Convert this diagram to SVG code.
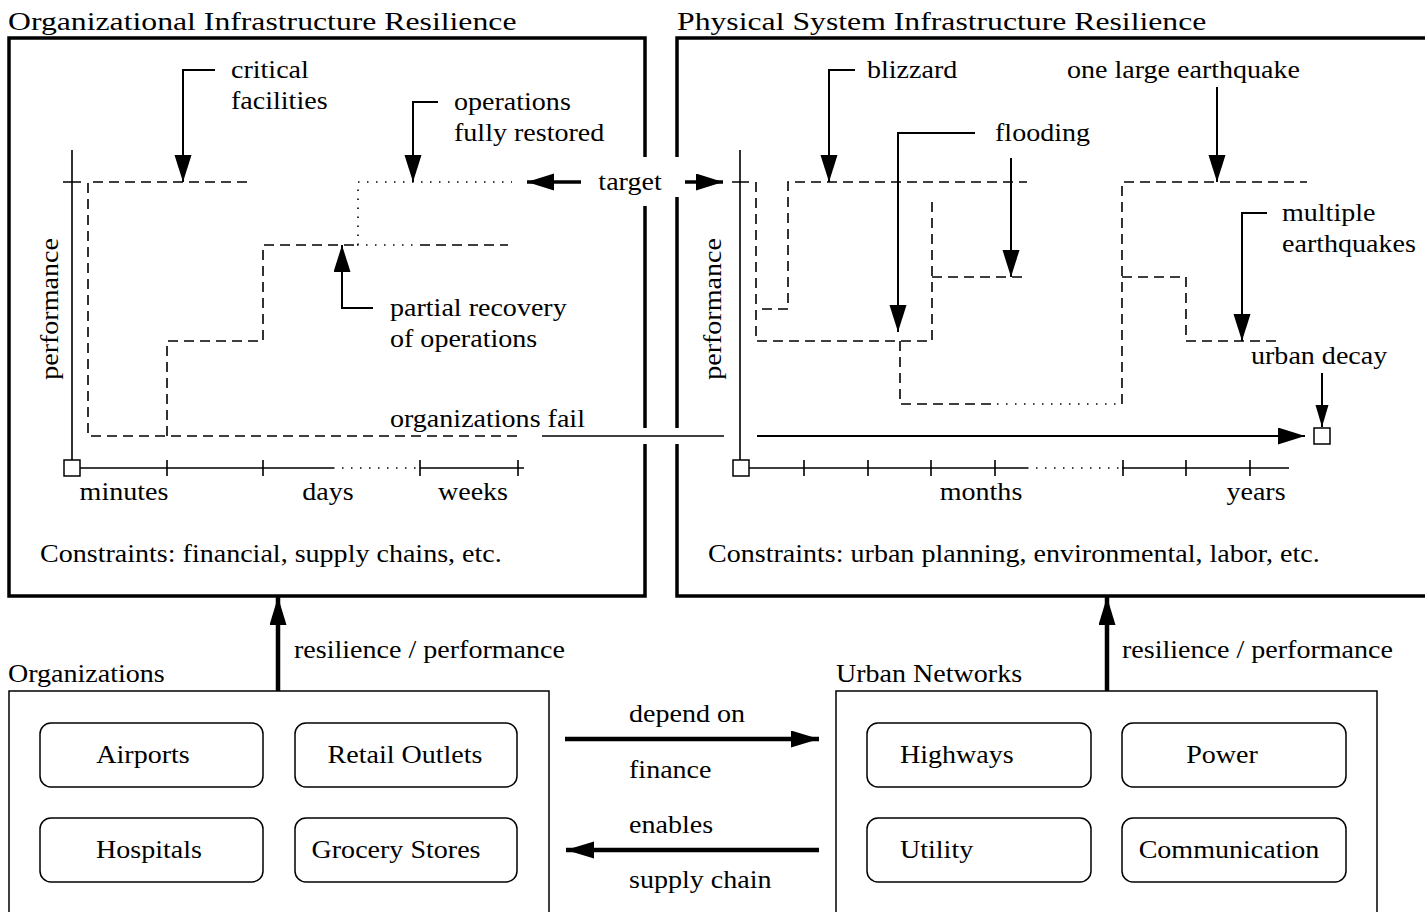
<svg xmlns="http://www.w3.org/2000/svg" width="1425" height="912" viewBox="0 0 1425 912">
<style>
text{font-family:"Liberation Serif","Times New Roman",serif;font-size:25.5px;fill:#000}
.ttl{font-size:25.7px}
.mid{text-anchor:middle}
.frame{fill:none;stroke:#000;stroke-width:3.5}
.ln{fill:none;stroke:#000;stroke-width:1.6}
.dash{fill:none;stroke:#000;stroke-width:1.6;stroke-dasharray:10 6}
.dot{fill:none;stroke:#000;stroke-width:1.6;stroke-dasharray:1.5 7.5}
.arr{fill:none;stroke:#000;stroke-width:2;marker-end:url(#ah)}
.arrs{fill:none;stroke:#000;stroke-width:2;marker-end:url(#ahs)}
.tarr{fill:none;stroke:#000;stroke-width:3.5;marker-end:url(#ah)}
.big{fill:none;stroke:#000;stroke-width:4.5;marker-end:url(#ahb)}
.box{fill:#fff;stroke:#000;stroke-width:1.5}
.rb{fill:#fff;stroke:#000;stroke-width:1.5}
.sq{fill:#fff;stroke:#000;stroke-width:1.5}
</style>
<defs>
<marker id="ah" markerUnits="userSpaceOnUse" markerWidth="28" markerHeight="18" refX="27" refY="8.5" orient="auto"><path d="M0,0 L27,8.5 L0,17 z" fill="#000"/></marker>
<marker id="ahs" markerUnits="userSpaceOnUse" markerWidth="24" markerHeight="14" refX="22" refY="6.5" orient="auto"><path d="M0,0 L22,6.5 L0,13 z" fill="#000"/></marker>
<marker id="ahb" markerUnits="userSpaceOnUse" markerWidth="30" markerHeight="18" refX="28" refY="8.5" orient="auto"><path d="M0,0 L28,8.5 L0,17 z" fill="#000"/></marker>
</defs>

<g id="org-resilience-panel">
<text class="ttl" transform="translate(8 30) scale(1.235 1)">Organizational Infrastructure Resilience</text>
<path class="frame" d="M645,157 V38 H9 V596 H645 V444 M645,428 V206"/>
<path class="ln" d="M72,150 V460 M63,182 H81 M80,468 H333 M420,468 H524 M167,460 V476 M263,460 V476 M420,460 V476 M518,460 V476"/>
<path class="dot" d="M333,468 H420"/>
<rect class="sq" x="64" y="460" width="16" height="16"/>
<text class="mid" transform="translate(58 309) rotate(-90) scale(1.10 1)">performance</text>
<text class="mid" transform="translate(124 500) scale(1.10 1)">minutes</text>
<text class="mid" transform="translate(328 500) scale(1.10 1)">days</text>
<text class="mid" transform="translate(473 500) scale(1.10 1)">weeks</text>
<path class="dash" d="M247,182 H88 V436 H517"/>
<path class="dash" d="M167,436 V341 H263 V245 H357"/>
<path class="dash" d="M420,245 H508"/>
<path class="dot" d="M357,245 H420 M358,245 V182 H512"/>
<text transform="translate(231 78) scale(1.10 1)">critical</text>
<text transform="translate(231 109) scale(1.10 1)">facilities</text>
<text transform="translate(454 110) scale(1.10 1)">operations</text>
<text transform="translate(454 141) scale(1.10 1)">fully restored</text>
<text transform="translate(390 316) scale(1.10 1)">partial recovery</text>
<text transform="translate(390 347) scale(1.10 1)">of operations</text>
<text transform="translate(390 427) scale(1.10 1)">organizations fail</text>
<text transform="translate(40 562) scale(1.10 1)">Constraints: financial, supply chains, etc.</text>
</g>

<g id="phys-resilience-panel">
<text class="ttl" transform="translate(677 30) scale(1.235 1)">Physical System Infrastructure Resilience</text>
<path class="frame" d="M677,157 V38 H1440 M677,197 V428 M677,444 V596 H1440"/>
<path class="ln" d="M740,150 V460 M732,182 H749 M748,468 H1027 M1122,468 H1289 M804,460 V476 M868,460 V476 M931,460 V476 M995,460 V476 M1123,460 V476 M1186,460 V476 M1250,460 V476"/>
<path class="dot" d="M1027,468 H1122"/>
<rect class="sq" x="733" y="460" width="16" height="16"/>
<rect class="sq" x="1314" y="428" width="16" height="16"/>
<text class="mid" transform="translate(721 309) rotate(-90) scale(1.10 1)">performance</text>
<text class="mid" transform="translate(981 500) scale(1.10 1)">months</text>
<text class="mid" transform="translate(1256 500) scale(1.10 1)">years</text>
<path class="dash" d="M756,182 V341 H932 V197"/>
<path class="dash" d="M762,309 H788 V182 H1027"/>
<path class="dash" d="M932,277 H1025"/>
<path class="dash" d="M900,341 V404 H997"/>
<path class="dot" d="M997,404 H1122"/>
<path class="dash" d="M1122,404 V182 H1307"/>
<path class="dash" d="M1122,277 H1186 V341 H1278"/>
<text transform="translate(867 78) scale(1.10 1)">blizzard</text>
<text transform="translate(1067 78) scale(1.10 1)">one large earthquake</text>
<text transform="translate(995 141) scale(1.10 1)">flooding</text>
<text transform="translate(1282 221) scale(1.10 1)">multiple</text>
<text transform="translate(1282 252) scale(1.10 1)">earthquakes</text>
<text transform="translate(1251 364) scale(1.10 1)">urban decay</text>
<text transform="translate(708 562) scale(1.10 1)">Constraints: urban planning, environmental, labor, etc.</text>
</g>

<g id="organizations">
<text transform="translate(8 682) scale(1.10 1)">Organizations</text>
<rect class="box" x="9" y="691" width="540" height="240"/>
<g id="airports"><rect class="rb" x="40" y="723" width="223" height="64" rx="11"/><text class="mid" transform="translate(143 763) scale(1.10 1)">Airports</text></g>
<g id="retail-outlets"><rect class="rb" x="295" y="723" width="222" height="64" rx="11"/><text class="mid" transform="translate(405 763) scale(1.10 1)">Retail Outlets</text></g>
<g id="hospitals"><rect class="rb" x="40" y="818" width="223" height="64" rx="11"/><text class="mid" transform="translate(149 858) scale(1.10 1)">Hospitals</text></g>
<g id="grocery-stores"><rect class="rb" x="295" y="818" width="222" height="64" rx="11"/><text class="mid" transform="translate(396 858) scale(1.10 1)">Grocery Stores</text></g>
</g>

<g id="urban-networks">
<text transform="translate(836 682) scale(1.10 1)">Urban Networks</text>
<rect class="box" x="836" y="691" width="541" height="240"/>
<g id="highways"><rect class="rb" x="867" y="723" width="224" height="64" rx="11"/><text transform="translate(900 763) scale(1.10 1)">Highways</text></g>
<g id="power"><rect class="rb" x="1122" y="723" width="224" height="64" rx="11"/><text class="mid" transform="translate(1222 763) scale(1.10 1)">Power</text></g>
<g id="utility"><rect class="rb" x="867" y="818" width="224" height="64" rx="11"/><text transform="translate(900 858) scale(1.10 1)">Utility</text></g>
<g id="communication"><rect class="rb" x="1122" y="818" width="224" height="64" rx="11"/><text class="mid" transform="translate(1229 858) scale(1.10 1)">Communication</text></g>
</g>

<g id="connectors">
<path class="arr" d="M215,70 H183 V182"/>
<path class="arr" d="M438,102 H413 V182"/>
<path class="arr" d="M373,308 H342 V245"/>
<path class="tarr" d="M581,182 H527"/>
<path class="tarr" d="M685,182 H723"/>
<text class="mid" transform="translate(630 190) scale(1.10 1)">target</text>
<path class="ln" d="M542,436 H724"/>
<path class="arr" d="M757,436 H1305"/>
<path class="arr" d="M855,70 H829 V182"/>
<path class="arr" d="M975,133 H898 V332"/>
<path class="arr" d="M1011,158 V277"/>
<path class="arr" d="M1217,87 V182"/>
<path class="arr" d="M1267,213 H1242 V341"/>
<path class="arrs" d="M1322,373 V427"/>
<path class="big" d="M278,691 V597"/>
<path class="big" d="M1107,691 V597"/>
<text transform="translate(294 658) scale(1.10 1)">resilience / performance</text>
<text transform="translate(1122 658) scale(1.10 1)">resilience / performance</text>
<path class="big" d="M565,739 H819"/>
<path class="big" d="M819,850 H566"/>
<text transform="translate(629 722) scale(1.10 1)">depend on</text>
<text transform="translate(629 778) scale(1.10 1)">finance</text>
<text transform="translate(629 833) scale(1.10 1)">enables</text>
<text transform="translate(629 888) scale(1.10 1)">supply chain</text>
</g>
</svg>
